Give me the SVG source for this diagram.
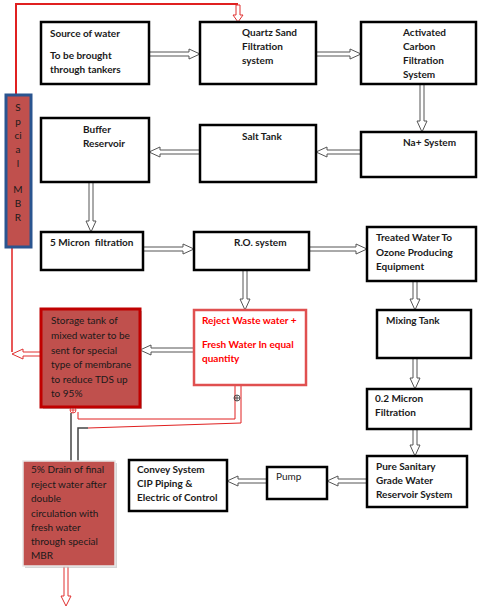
<svg xmlns="http://www.w3.org/2000/svg" width="488" height="608" viewBox="0 0 488 608">
<style>
.box{fill:#fff;stroke:#000;stroke-width:2.5}
.t{font-family:Lato,"Liberation Sans",sans-serif;font-size:10px;font-weight:bold;fill:#1a1a1a}
.n{font-family:Lato,"Liberation Sans",sans-serif;font-size:10px;fill:#1a1a1a}
.r{font-family:Lato,"Liberation Sans",sans-serif;font-size:10px;font-weight:bold;fill:#ff0000}
.ha{fill:#fff;stroke:#555;stroke-width:1}
.hr{fill:#fff;stroke:#e03030;stroke-width:1}
.rl{fill:none;stroke:#e02020}
.gl{fill:none;stroke:#444;stroke-width:1.5}
</style>
<rect width="488" height="608" fill="#fff"/>
<g id="connectors">
<path class="rl" stroke-width="2" d="M16,95 V4 H238"/>
<path class="hr" d="M236,5 V15 H233 L238,22 L243,15 H240 V5 Z"/>
<path class="rl" stroke-width="1.5" d="M12,248 V352"/>
<path class="ha" d="M149,52 H189 V49 L200,54 L189,59 V56 H149 Z"/>
<path class="ha" d="M316,52 H350 V49 L361,54 L350,59 V56 H316 Z"/>
<path class="ha" d="M420,84 V121 H417 L422,132 L427,121 H424 V84 Z"/>
<path class="ha" d="M361,150 H327 V147 L316,152 L327,157 V154 H361 Z"/>
<path class="ha" d="M200,150 H160 V147 L149,152 L160,157 V154 H200 Z"/>
<path class="ha" d="M89,182 V221 H86 L91,232 L96,221 H93 V182 Z"/>
<path class="ha" d="M143,247 H183 V244 L194,249 L183,254 V251 H143 Z"/>
<path class="ha" d="M309,247 H356 V244 L367,249 L356,254 V251 H309 Z"/>
<path class="ha" d="M243,270 V299 H240 L245,310 L250,299 H247 V270 Z"/>
<path class="ha" d="M413,281 V299 H410 L415,310 L420,299 H417 V281 Z"/>
<path class="ha" d="M413,358 V378 H410 L415,389 L420,378 H417 V358 Z"/>
<path class="ha" d="M413,429 V445 H410 L415,456 L420,445 H417 V429 Z"/>
<path class="ha" d="M367,479 H338 V476 L327,481 L338,486 V483 H367 Z"/>
<path class="ha" d="M267,479 H238 V476 L227,481 L238,486 V483 H267 Z"/>
<path class="ha" d="M194,348 H151 V345 L140,350 L151,355 V352 H194 Z"/>
<path class="hr" d="M41,352 H23 V349 L12,354 L23,359 V356 H41 Z"/>
<path class="hr" d="M64,566 V596 H61 L66,606 L71,596 H68 V566 Z"/>
<path class="rl" stroke-width="1" d="M235,385 V419 H78 V412"/>
<path class="rl" stroke-width="1" d="M241,385 V423 L88,428"/>
<path class="gl" d="M88,428 H78 V461"/>
<path class="gl" d="M71,413 V461"/>
<g fill="none" stroke="#e02020" stroke-width="0.8"><circle cx="73" cy="410" r="3"/><path d="M70,410 H76 M73,407 V413"/></g>
<g fill="none" stroke="#333" stroke-width="0.8"><circle cx="237" cy="398" r="3"/><path d="M234,398 H240 M237,395 V401"/></g>
</g>
<g id="source"><rect class="box" x="41" y="22" width="108" height="62"/>
<text class="t" x="50" y="37">Source of water</text><text class="t" x="50" y="59">To be brought</text><text class="t" x="50" y="73">through tankers</text></g>
<g id="quartz"><rect class="box" x="200" y="22" width="116" height="62"/>
<text class="t" x="242" y="36">Quartz Sand</text><text class="t" x="242" y="50">Filtration</text><text class="t" x="242" y="64">system</text></g>
<g id="carbon"><rect class="box" x="361" y="22" width="115" height="62"/>
<text class="t" x="403" y="36">Activated</text><text class="t" x="403" y="50">Carbon</text><text class="t" x="403" y="64">Filtration</text><text class="t" x="403" y="78">System</text></g>
<g id="na"><rect class="box" x="361" y="132" width="115" height="45"/>
<text class="t" x="403" y="146">Na+ System</text></g>
<g id="salt"><rect class="box" x="200" y="125" width="116" height="57"/>
<text class="t" x="242" y="140">Salt Tank</text></g>
<g id="buffer"><rect class="box" x="41" y="118" width="108" height="64"/>
<text class="t" x="83" y="133">Buffer</text><text class="t" x="83" y="147">Reservoir</text></g>
<g id="micron5"><rect class="box" x="41" y="232" width="102" height="38"/>
<text class="t" x="50" y="246" xml:space="preserve">5 Micron  filtration</text></g>
<g id="ro"><rect class="box" x="194" y="232" width="115" height="38"/>
<text class="t" x="234" y="246">R.O. system</text></g>
<g id="treated"><rect class="box" x="367" y="227" width="109" height="54"/>
<text class="t" x="376" y="241">Treated Water To</text><text class="t" x="376" y="256">Ozone Producing</text><text class="t" x="376" y="270">Equipment</text></g>
<g id="mixing"><rect class="box" x="377" y="310" width="94" height="48"/>
<text class="t" x="386" y="324">Mixing Tank</text></g>
<g id="micron02"><rect class="box" x="367" y="389" width="104" height="40"/>
<text class="t" x="375" y="402">0.2 Micron</text><text class="t" x="375" y="416">Filtration</text></g>
<g id="pure"><rect class="box" x="367" y="456" width="100" height="51"/>
<text class="t" x="376" y="470">Pure Sanitary</text><text class="t" x="376" y="484">Grade Water</text><text class="t" x="376" y="498">Reservoir System</text></g>
<g id="pump"><rect class="box" x="267" y="467" width="60" height="32"/>
<text class="n" x="276" y="480">Pump</text></g>
<g id="convey"><rect class="box" x="129" y="460" width="98" height="51"/>
<text class="t" x="137" y="473">Convey System</text><text class="t" x="137" y="487">CIP Piping &amp;</text><text class="t" x="137" y="501">Electric of Control</text></g>
<g id="reject"><rect x="194" y="310" width="112" height="75" fill="#fff" stroke="#e05050" stroke-width="2.5"/>
<text class="r" x="202" y="324">Reject Waste water +</text><text class="r" x="202" y="348">Fresh Water In equal</text><text class="r" x="202" y="362">quantity</text></g>
<g id="storage"><rect x="43" y="311" width="99" height="98" fill="#999" opacity="0.6"/>
<rect x="41" y="309" width="99" height="98" fill="#c0504d" stroke="#c00000" stroke-width="3"/>
<text class="n" x="51" y="324">Storage tank of</text><text class="n" x="51" y="339">mixed water to be</text><text class="n" x="51" y="354">sent for special</text><text class="n" x="51" y="368">type of membrane</text><text class="n" x="51" y="383">to reduce TDS up</text><text class="n" x="51" y="397">to 95%</text></g>
<g id="drain"><rect x="25" y="463" width="92" height="105" fill="#bbb" opacity="0.6"/>
<rect x="23" y="461" width="92" height="105" fill="#c0504d" stroke="#e8e8e8" stroke-width="1.5"/>
<text class="n" x="31" y="473">5% Drain of final</text><text class="n" x="31" y="488">reject water after</text><text class="n" x="31" y="502">double</text><text class="n" x="31" y="517">circulation with</text><text class="n" x="31" y="531">fresh water</text><text class="n" x="31" y="545">through special</text><text class="n" x="31" y="559">MBR</text></g>
<g id="mbr"><rect x="6" y="95" width="25" height="152" fill="#c0504d" stroke="#2a5590" stroke-width="3"/>
<g class="n" text-anchor="middle">
<text x="18" y="111">S</text><text x="18" y="125">p</text><text x="18" y="139">ci</text><text x="18" y="153">a</text><text x="18" y="167">l</text><text x="18" y="193">M</text><text x="18" y="207">B</text><text x="18" y="221">R</text></g></g>
</svg>
